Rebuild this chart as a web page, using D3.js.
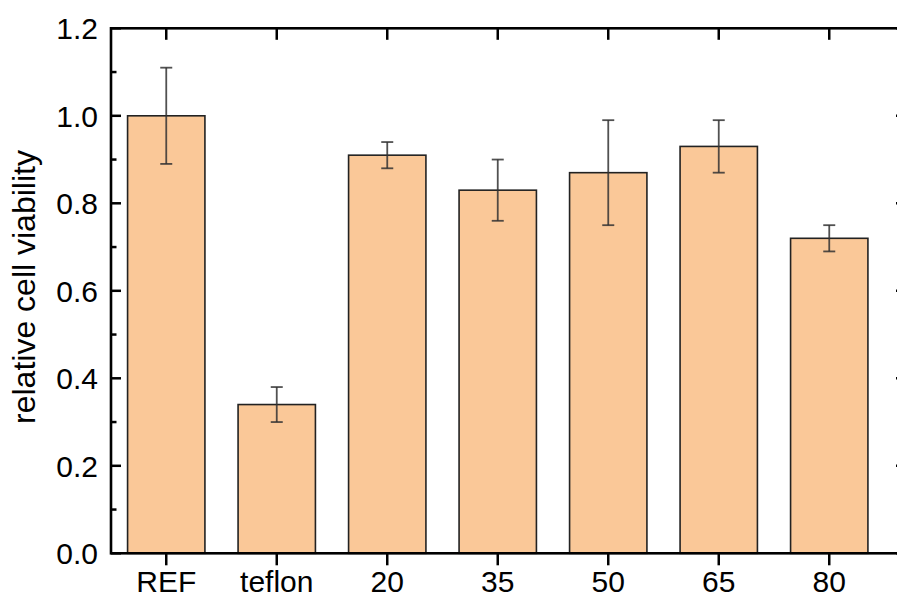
<!DOCTYPE html>
<html><head><meta charset="utf-8">
<script src="https://cdn.jsdelivr.net/npm/d3@7"></script>
<style>html,body{margin:0;padding:0;background:#fff;overflow:hidden}</style>
</head><body>
<svg id="chart" width="897" height="601"></svg>
<script>
const categories = ["REF", "teflon", "20", "35", "50", "65", "80"];
const values = [1.00, 0.34, 0.91, 0.83, 0.87, 0.93, 0.72];
const errors = [0.11, 0.04, 0.03, 0.07, 0.12, 0.06, 0.03];
const yTicks = [0.0, 0.2, 0.4, 0.6, 0.8, 1.0, 1.2];
const yMinorTicks = [0.1, 0.3, 0.5, 0.7, 0.9, 1.1];
const yLabel = "relative cell viability";

(function () {
const svg = d3.select("#chart");
const pLeft = 111, pRight = 906, pTop = 28.3, pBottom = 553.3;
const font = "'Liberation Sans', Arial, sans-serif";

const x = d3.scaleBand().domain(categories).range([pLeft, pLeft + 110.5 * 7])
  .paddingInner(0.3).paddingOuter(0.15);
const y = d3.scaleLinear().domain([0, 1.2]).range([pBottom, pTop]);
const cx = c => x(c) + x.bandwidth() / 2;

// bars
svg.append("g").selectAll("rect").data(categories).join("rect")
  .attr("x", c => x(c)).attr("width", x.bandwidth())
  .attr("y", (c, i) => y(values[i])).attr("height", (c, i) => y(0) - y(values[i]))
  .attr("fill", "#FAC898").attr("stroke", "#222").attr("stroke-width", 1.6);

// error bars
const eg = svg.append("g").attr("stroke", "#333").attr("stroke-opacity", 0.85).attr("stroke-width", 1.8);
categories.forEach((c, i) => {
  const xc = cx(c), y1 = y(values[i] + errors[i]), y2 = y(values[i] - errors[i]);
  eg.append("line").attr("x1", xc).attr("x2", xc).attr("y1", y1).attr("y2", y2);
  eg.append("line").attr("x1", xc - 6).attr("x2", xc + 6).attr("y1", y1).attr("y2", y1);
  eg.append("line").attr("x1", xc - 6).attr("x2", xc + 6).attr("y1", y2).attr("y2", y2);
});

// axes ticks
const ax = svg.append("g").attr("stroke", "#000");
yTicks.forEach(t => ax.append("line").attr("x1", pLeft).attr("x2", pLeft + 10).attr("y1", y(t)).attr("y2", y(t)).attr("stroke-width", 2.5));
yMinorTicks.forEach(t => ax.append("line").attr("x1", pLeft).attr("x2", pLeft + 5.5).attr("y1", y(t)).attr("y2", y(t)).attr("stroke-width", 2.5));
yTicks.forEach(t => ax.append("line").attr("x1", pRight).attr("x2", pRight - 10).attr("y1", y(t)).attr("y2", y(t)).attr("stroke-width", 2.5));
yMinorTicks.forEach(t => ax.append("line").attr("x1", pRight).attr("x2", pRight - 5.5).attr("y1", y(t)).attr("y2", y(t)).attr("stroke-width", 2.5));
categories.forEach(c => {
  ax.append("line").attr("x1", cx(c)).attr("x2", cx(c)).attr("y1", pBottom).attr("y2", pBottom + 12).attr("stroke-width", 2.5);
  ax.append("line").attr("x1", cx(c)).attr("x2", cx(c)).attr("y1", pTop).attr("y2", pTop + 11.5).attr("stroke-width", 2.5);
});
svg.append("rect").attr("x", pLeft).attr("y", pTop).attr("width", pRight - pLeft).attr("height", pBottom - pTop)
  .attr("fill", "none").attr("stroke", "#000").attr("stroke-width", 2.6);

// tick labels
svg.append("g").selectAll("text").data(yTicks).join("text")
  .attr("x", 98).attr("y", t => y(t) + 10.7).attr("text-anchor", "end")
  .attr("font-family", font).attr("font-size", 30).attr("fill", "#000")
  .text(t => t.toFixed(1));
svg.append("g").selectAll("text").data(categories).join("text")
  .attr("x", c => cx(c)).attr("y", 592).attr("text-anchor", "middle")
  .attr("font-family", font).attr("font-size", 30).attr("fill", "#000")
  .text(c => c);

// y label
svg.append("text").attr("transform", `translate(35,287) rotate(-90)`)
  .attr("text-anchor", "middle").attr("font-family", font).attr("font-size", 32).attr("fill", "#000")
  .text(yLabel);
})();
</script>
</body></html>
